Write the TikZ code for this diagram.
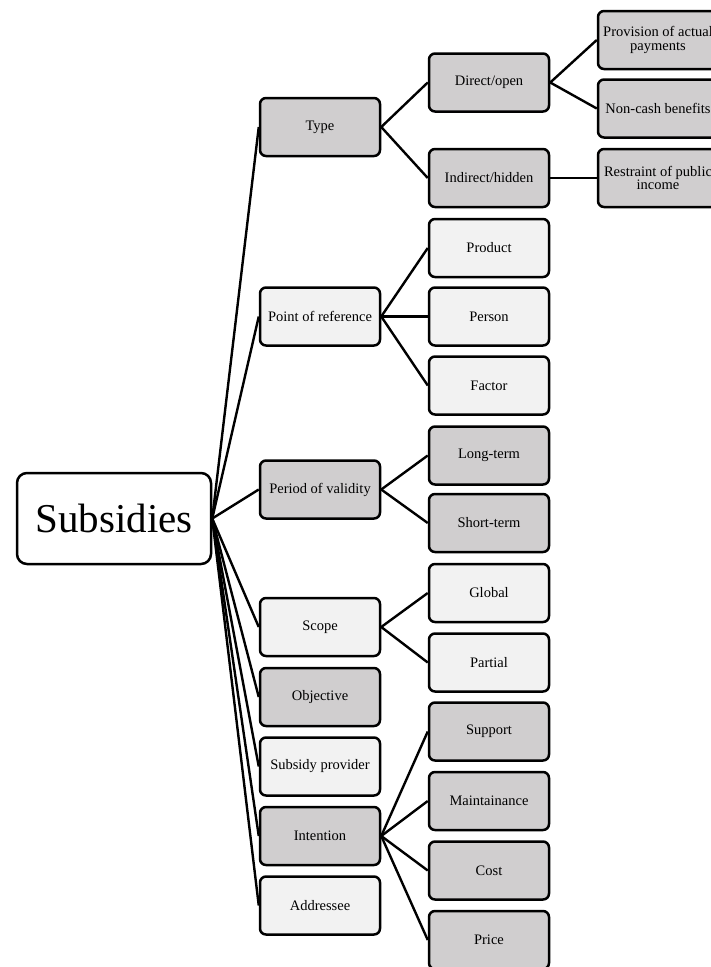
\documentclass[tikz,border=0pt]{standalone}
\usepackage{fontspec}
\setmainfont{Liberation Serif}
\usetikzlibrary{positioning}
\definecolor{boxdark}{RGB}{208,206,207}
\definecolor{boxlight}{RGB}{242,242,242}
\tikzset{
  box/.style={draw, line width=2.5pt, rounded corners=6pt, minimum width=120pt, minimum height=58pt, inner sep=1pt, align=center, font=\fontsize{14.5}{13.5}\selectfont},
  darkbox/.style={box, fill=boxdark},
  lightbox/.style={box, fill=boxlight},
  link/.style={line width=2.4pt}
}

\begin{document}
\begin{tikzpicture}[x=1pt,y=-1pt]
        % classification tree of subsidies
        \useasboundingbox (0,0) rectangle (710,967);
        \node[box, fill=white, minimum width=194pt, minimum height=91pt, rounded corners=10pt, font=\fontsize{41}{41}\selectfont] (subsidies) at (114,518.5) {Subsidies};

        \node[darkbox] (type) at (320,127) {Type};
        \node[lightbox] (reference) at (320,316.5) {Point of reference};
        \node[darkbox] (validity) at (320,489.5) {Period of validity};
        \node[lightbox] (scope) at (320,627) {Scope};
        \node[darkbox] (objective) at (320,697) {Objective};
        \node[lightbox] (provider) at (320,766.5) {Subsidy provider};
        \node[darkbox] (intention) at (320,836) {Intention};
        \node[lightbox] (addressee) at (320,905.5) {Addressee};

        \node[darkbox] (direct) at (489,82.5) {Direct/open};
        \node[darkbox] (indirect) at (489,178) {Indirect/hidden};
        \node[lightbox] (product) at (489,248) {Product};
        \node[lightbox] (person) at (489,316.5) {Person};
        \node[lightbox] (factor) at (489,385.5) {Factor};
        \node[darkbox] (longterm) at (489,455.5) {Long-term};
        \node[darkbox] (shortterm) at (489,523) {Short-term};
        \node[lightbox] (global) at (489,593) {Global};
        \node[lightbox] (partial) at (489,662.5) {Partial};
        \node[darkbox] (support) at (489,731.5) {Support};
        \node[darkbox] (maintain) at (489,801) {Maintainance};
        \node[darkbox] (cost) at (489,870.5) {Cost};
        \node[darkbox] (price) at (489,940) {Price};

        \node[darkbox] (payments) at (658,40) {Provision of actual\\payments};
        \node[darkbox] (noncash) at (658,108.5) {Non-cash benefits};
        \node[darkbox] (restraint) at (658,178) {Restraint of public\\income};

        \draw[link] (subsidies.east) -- (type.west);
        \draw[link] (subsidies.east) -- (reference.west);
        \draw[link] (subsidies.east) -- (validity.west);
        \draw[link] (subsidies.east) -- (scope.west);
        \draw[link] (subsidies.east) -- (objective.west);
        \draw[link] (subsidies.east) -- (provider.west);
        \draw[link] (subsidies.east) -- (intention.west);
        \draw[link] (subsidies.east) -- (addressee.west);

        \draw[link] (type.east) -- (direct.west);
        \draw[link] (type.east) -- (indirect.west);
        \draw[link] (direct.east) -- (payments.west);
        \draw[link] (direct.east) -- (noncash.west);
        \draw[link] (indirect.east) -- (restraint.west);
        \draw[link] (reference.east) -- (product.west);
        \draw[link] (reference.east) -- (person.west);
        \draw[link] (reference.east) -- (factor.west);
        \draw[link] (validity.east) -- (longterm.west);
        \draw[link] (validity.east) -- (shortterm.west);
        \draw[link] (scope.east) -- (global.west);
        \draw[link] (scope.east) -- (partial.west);
        \draw[link] (intention.east) -- (support.west);
        \draw[link] (intention.east) -- (maintain.west);
        \draw[link] (intention.east) -- (cost.west);
        \draw[link] (intention.east) -- (price.west);
    \end{tikzpicture}
\end{document}
